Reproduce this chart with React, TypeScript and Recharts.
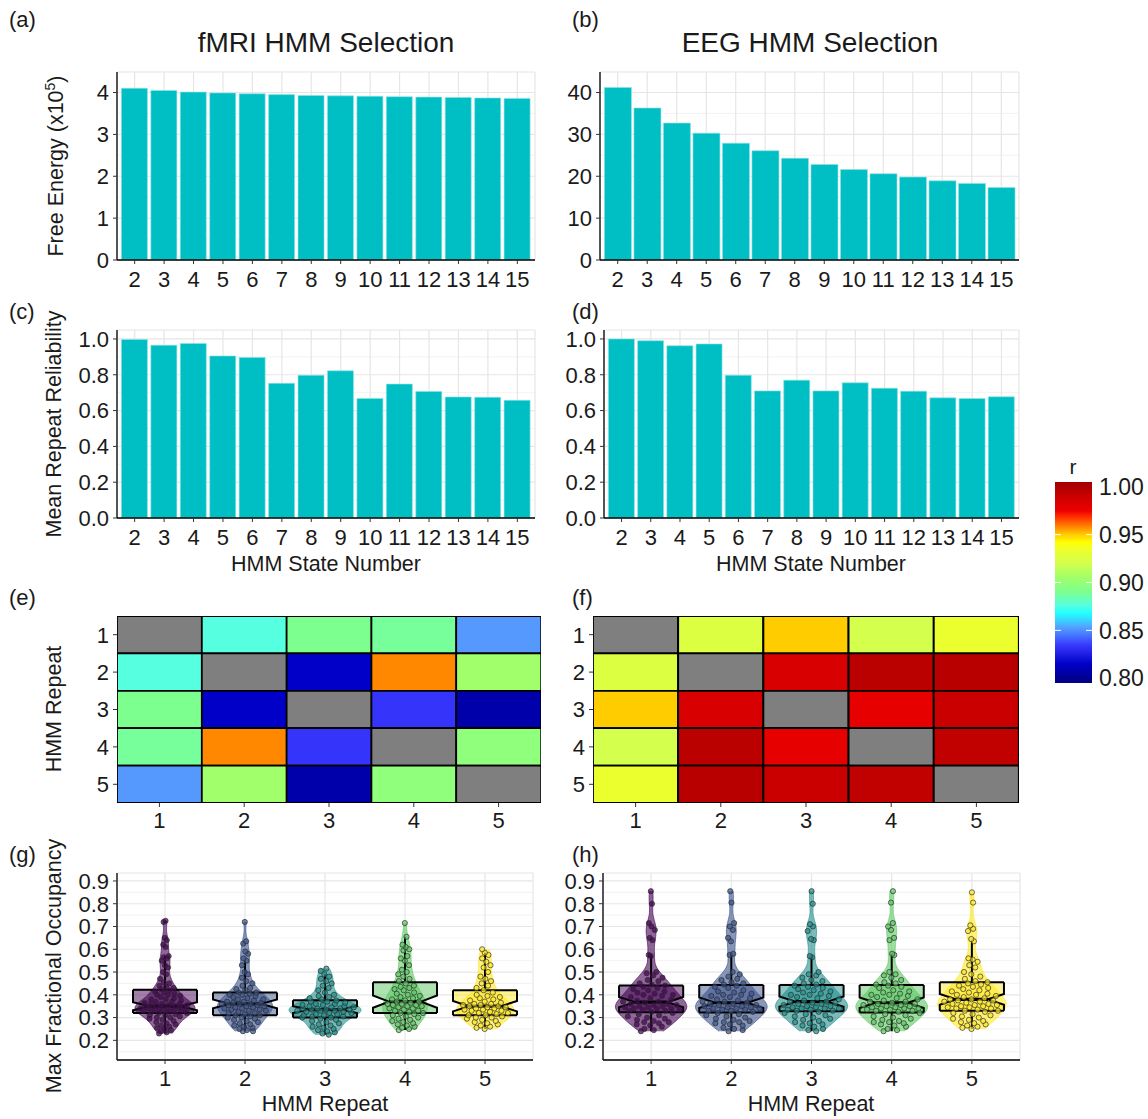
import React from 'react';
import {
  BarChart,
  Bar,
  ComposedChart,
  Area,
  Scatter,
  XAxis,
  YAxis,
  CartesianGrid,
  ReferenceLine,
  Cell,
} from 'recharts';

const FONT = '"Liberation Sans", Arial, Helvetica, sans-serif';
const INK = '#1a1a1a';
const TEAL = '#00BFC4';

// ---- (a)-(d) model selection ----
const stateNumbers = [2, 3, 4, 5, 6, 7, 8, 9, 10, 11, 12, 13, 14, 15];
const fmriFreeEnergy = [4.1, 4.05, 4.01, 3.99, 3.97, 3.95, 3.93, 3.92, 3.91, 3.9, 3.89, 3.88, 3.87, 3.86];
const eegFreeEnergy = [41.2, 36.3, 32.7, 30.3, 27.9, 26.1, 24.3, 22.8, 21.6, 20.6, 19.8, 18.9, 18.3, 17.3];
const fmriReliability = [0.997, 0.965, 0.975, 0.905, 0.897, 0.752, 0.797, 0.822, 0.668, 0.748, 0.707, 0.676, 0.674, 0.657];
const eegReliability = [1.0, 0.99, 0.962, 0.972, 0.797, 0.71, 0.77, 0.71, 0.755, 0.725, 0.708, 0.671, 0.667, 0.677];

const fmriEnergyTicks = [0, 1, 2, 3, 4];
const fmriEnergyMinor = [0.5, 1.5, 2.5, 3.5];
const eegEnergyTicks = [0, 10, 20, 30, 40];
const eegEnergyMinor = [5, 15, 25, 35];
const reliabilityTicks = [0, 0.2, 0.4, 0.6, 0.8, 1.0];
const reliabilityMinor = [0.1, 0.3, 0.5, 0.7, 0.9];

// ---- (e)-(f) repeat-to-repeat correlation ----
const repeats = [1, 2, 3, 4, 5];
const fmriRepeatR: (number | null)[][] = [
  [null, 0.876, 0.89, 0.888, 0.852],
  [0.876, null, 0.815, 0.958, 0.905],
  [0.89, 0.815, null, 0.833, 0.807],
  [0.888, 0.958, 0.833, null, 0.898],
  [0.852, 0.905, 0.807, 0.898, null],
];
const eegRepeatR: (number | null)[][] = [
  [null, 0.925, 0.95, 0.92, 0.933],
  [0.925, null, 0.985, 0.995, 0.996],
  [0.95, 0.985, null, 0.978, 0.99],
  [0.92, 0.995, 0.978, null, 0.993],
  [0.933, 0.996, 0.99, 0.993, null],
];
const rTicks = [0.8, 0.85, 0.9, 0.95, 1.0];
const rInnerTicks = [0.85, 0.9, 0.95];

// ---- (g)-(h) max fractional occupancy per repeat ----
const occTicks = [0.2, 0.3, 0.4, 0.5, 0.6, 0.7, 0.8, 0.9];
const occMinor = [0.15, 0.25, 0.35, 0.45, 0.55, 0.65, 0.75, 0.85];

const fmriOcc1 = [0.725, 0.72, 0.65, 0.64, 0.62, 0.61, 0.57, 0.565, 0.56, 0.55, 0.53, 0.52, 0.5, 0.49, 0.47, 0.455, 0.45, 0.44, 0.435, 0.43, 0.425, 0.42, 0.415, 0.41, 0.405, 0.4, 0.4, 0.395, 0.39, 0.385, 0.38, 0.38, 0.375, 0.37, 0.37, 0.365, 0.36, 0.36, 0.36, 0.355, 0.355, 0.35, 0.35, 0.35, 0.35, 0.345, 0.345, 0.345, 0.34, 0.34, 0.34, 0.34, 0.335, 0.335, 0.335, 0.33, 0.33, 0.33, 0.33, 0.325, 0.325, 0.32, 0.32, 0.315, 0.31, 0.31, 0.305, 0.3, 0.3, 0.295, 0.29, 0.285, 0.28, 0.275, 0.27, 0.265, 0.26, 0.255, 0.25, 0.245, 0.24, 0.235, 0.23];
const fmriOcc2 = [0.72, 0.635, 0.625, 0.59, 0.58, 0.56, 0.55, 0.53, 0.5, 0.49, 0.475, 0.46, 0.45, 0.44, 0.43, 0.425, 0.42, 0.41, 0.41, 0.405, 0.4, 0.4, 0.395, 0.39, 0.385, 0.38, 0.38, 0.375, 0.37, 0.37, 0.365, 0.365, 0.36, 0.36, 0.36, 0.355, 0.355, 0.35, 0.35, 0.345, 0.345, 0.34, 0.34, 0.335, 0.335, 0.33, 0.33, 0.325, 0.32, 0.32, 0.315, 0.31, 0.31, 0.305, 0.3, 0.3, 0.295, 0.29, 0.285, 0.28, 0.275, 0.27, 0.265, 0.26, 0.255, 0.25, 0.245, 0.24, 0.24];
const fmriOcc3 = [0.515, 0.505, 0.49, 0.48, 0.47, 0.46, 0.45, 0.44, 0.43, 0.42, 0.41, 0.4, 0.395, 0.39, 0.385, 0.38, 0.375, 0.37, 0.37, 0.365, 0.36, 0.36, 0.355, 0.355, 0.35, 0.35, 0.345, 0.345, 0.34, 0.34, 0.34, 0.335, 0.335, 0.335, 0.33, 0.33, 0.33, 0.325, 0.325, 0.32, 0.32, 0.315, 0.315, 0.31, 0.31, 0.305, 0.305, 0.3, 0.3, 0.295, 0.29, 0.285, 0.28, 0.275, 0.27, 0.265, 0.26, 0.255, 0.25, 0.245, 0.24, 0.235, 0.23, 0.225];
const fmriOcc4 = [0.715, 0.655, 0.62, 0.61, 0.6, 0.595, 0.57, 0.56, 0.55, 0.53, 0.51, 0.5, 0.49, 0.48, 0.47, 0.46, 0.45, 0.44, 0.435, 0.43, 0.425, 0.42, 0.41, 0.405, 0.4, 0.395, 0.39, 0.385, 0.38, 0.375, 0.37, 0.37, 0.365, 0.36, 0.36, 0.355, 0.355, 0.35, 0.35, 0.345, 0.34, 0.34, 0.335, 0.33, 0.33, 0.325, 0.32, 0.32, 0.315, 0.31, 0.305, 0.3, 0.295, 0.29, 0.285, 0.28, 0.275, 0.27, 0.265, 0.26, 0.255, 0.25, 0.245];
const fmriOcc5 = [0.6, 0.585, 0.575, 0.56, 0.545, 0.53, 0.52, 0.5, 0.48, 0.47, 0.46, 0.45, 0.44, 0.43, 0.42, 0.41, 0.4, 0.395, 0.39, 0.385, 0.38, 0.375, 0.37, 0.365, 0.36, 0.36, 0.355, 0.355, 0.35, 0.35, 0.345, 0.345, 0.34, 0.34, 0.335, 0.335, 0.33, 0.33, 0.325, 0.32, 0.32, 0.315, 0.31, 0.31, 0.305, 0.3, 0.3, 0.295, 0.29, 0.285, 0.28, 0.275, 0.27, 0.265, 0.26, 0.255, 0.25];

const eegOcc1 = [0.855, 0.8, 0.715, 0.7, 0.685, 0.65, 0.64, 0.575, 0.57, 0.5, 0.495, 0.485, 0.475, 0.465, 0.46, 0.45, 0.445, 0.44, 0.435, 0.43, 0.425, 0.42, 0.415, 0.41, 0.405, 0.4, 0.4, 0.395, 0.39, 0.385, 0.38, 0.375, 0.37, 0.37, 0.365, 0.36, 0.36, 0.355, 0.355, 0.35, 0.35, 0.345, 0.345, 0.34, 0.34, 0.34, 0.335, 0.335, 0.33, 0.33, 0.325, 0.32, 0.315, 0.31, 0.305, 0.3, 0.295, 0.29, 0.285, 0.28, 0.28, 0.275, 0.27, 0.265, 0.26, 0.25, 0.245, 0.24];
const eegOcc2 = [0.855, 0.805, 0.715, 0.7, 0.685, 0.65, 0.635, 0.58, 0.575, 0.5, 0.49, 0.48, 0.47, 0.465, 0.455, 0.45, 0.445, 0.44, 0.435, 0.43, 0.42, 0.415, 0.41, 0.405, 0.4, 0.4, 0.395, 0.39, 0.385, 0.38, 0.375, 0.37, 0.37, 0.365, 0.36, 0.36, 0.355, 0.355, 0.35, 0.35, 0.345, 0.345, 0.34, 0.34, 0.34, 0.335, 0.335, 0.33, 0.33, 0.325, 0.32, 0.315, 0.31, 0.305, 0.3, 0.295, 0.29, 0.285, 0.28, 0.28, 0.275, 0.27, 0.265, 0.255, 0.25, 0.245, 0.24];
const eegOcc3 = [0.855, 0.8, 0.71, 0.7, 0.68, 0.645, 0.64, 0.57, 0.565, 0.5, 0.49, 0.485, 0.475, 0.465, 0.46, 0.45, 0.445, 0.44, 0.435, 0.43, 0.425, 0.42, 0.415, 0.41, 0.405, 0.4, 0.4, 0.395, 0.39, 0.385, 0.38, 0.375, 0.37, 0.37, 0.365, 0.365, 0.36, 0.36, 0.355, 0.35, 0.35, 0.345, 0.345, 0.34, 0.34, 0.34, 0.335, 0.335, 0.33, 0.33, 0.325, 0.32, 0.315, 0.31, 0.305, 0.3, 0.295, 0.29, 0.285, 0.28, 0.275, 0.27, 0.265, 0.26, 0.25, 0.245, 0.24];
const eegOcc4 = [0.855, 0.805, 0.715, 0.7, 0.685, 0.65, 0.64, 0.58, 0.575, 0.5, 0.49, 0.485, 0.475, 0.465, 0.455, 0.45, 0.445, 0.44, 0.435, 0.43, 0.42, 0.415, 0.41, 0.405, 0.4, 0.4, 0.395, 0.39, 0.385, 0.38, 0.375, 0.37, 0.37, 0.365, 0.36, 0.36, 0.355, 0.355, 0.35, 0.35, 0.345, 0.345, 0.34, 0.34, 0.34, 0.335, 0.335, 0.33, 0.33, 0.325, 0.32, 0.315, 0.31, 0.305, 0.3, 0.295, 0.29, 0.285, 0.28, 0.28, 0.275, 0.27, 0.265, 0.26, 0.25, 0.245, 0.24];
const eegOcc5 = [0.85, 0.805, 0.705, 0.69, 0.68, 0.645, 0.635, 0.56, 0.555, 0.545, 0.53, 0.52, 0.5, 0.49, 0.48, 0.47, 0.46, 0.455, 0.45, 0.445, 0.44, 0.435, 0.43, 0.425, 0.42, 0.415, 0.41, 0.405, 0.4, 0.4, 0.395, 0.39, 0.385, 0.38, 0.38, 0.375, 0.375, 0.37, 0.37, 0.365, 0.36, 0.36, 0.355, 0.355, 0.35, 0.35, 0.345, 0.345, 0.34, 0.34, 0.335, 0.33, 0.33, 0.325, 0.32, 0.315, 0.31, 0.305, 0.3, 0.295, 0.29, 0.285, 0.28, 0.275, 0.27, 0.265, 0.26, 0.255, 0.25];

const viridis5 = ['#440154', '#3B528B', '#21908C', '#5DC863', '#FDE725'];

// jet-like colour ramp used for r
const rStops: [number, string][] = [
  [0.795, '#000088'],
  [0.8, '#00008F'],
  [0.815, '#0000C8'],
  [0.835, '#3A3AFF'],
  [0.845, '#4477FF'],
  [0.852, '#5599FF'],
  [0.862, '#33DDFF'],
  [0.868, '#22FFFF'],
  [0.876, '#55FFE0'],
  [0.89, '#7DFF90'],
  [0.905, '#A0FF6A'],
  [0.92, '#D4FF4C'],
  [0.935, '#EEFF2A'],
  [0.942, '#FFFF00'],
  [0.95, '#FFCC00'],
  [0.958, '#FF8800'],
  [0.968, '#FF3300'],
  [0.975, '#EE0000'],
  [0.985, '#D80000'],
  [0.995, '#BB0000'],
  [1.005, '#A00000'],
];

function hexToRgb(h: string) {
  return [1, 3, 5].map((i) => parseInt(h.slice(i, i + 2), 16));
}

function rColor(v: number | null) {
  if (v == null) return '#7F7F7F';
  if (v <= rStops[0][0]) return rStops[0][1];
  for (let i = 1; i < rStops.length; i++) {
    const [v1, c1] = rStops[i];
    if (v <= v1) {
      const [v0, c0] = rStops[i - 1];
      const t = (v - v0) / (v1 - v0);
      const a = hexToRgb(c0);
      const b = hexToRgb(c1);
      const m = a.map((x, k) => Math.round(x + (b[k] - x) * t));
      return `rgb(${m[0]},${m[1]},${m[2]})`;
    }
  }
  return rStops[rStops.length - 1][1];
}

// ---- layout helpers ----
type Plot = { left: number; top: number; right: number; bottom: number };
type Frame = { L: number; T: number; W: number; H: number; plot: Plot };

const TICK_FS = 22;
const tickStyle = { fontSize: TICK_FS, fill: INK, fontFamily: FONT };
const axisLineStyle = { stroke: '#000', strokeWidth: 1.3 };
const tickLineStyle = { stroke: '#333', strokeWidth: 1 };

function margins(f: Frame) {
  return { top: f.plot.top - f.T, right: f.L + f.W - f.plot.right, left: 0, bottom: 0 };
}

function Text({ cx, cy, size = 21.5, rotate = false, children }: any) {
  return (
    <div
      style={{
        position: 'absolute',
        left: cx,
        top: cy,
        transform: `translate(-50%, -50%)${rotate ? ' rotate(-90deg)' : ''}`,
        whiteSpace: 'nowrap',
        fontSize: size,
        lineHeight: 1,
        color: INK,
      }}
    >
      {children}
    </div>
  );
}

function Tag({ x, y, children }: any) {
  return (
    <div style={{ position: 'absolute', left: x, top: y, fontSize: 22, lineHeight: 1, color: INK }}>
      {children}
    </div>
  );
}

// ---- bar panels ----
function BarPanel({ frame, values, domain, ticks, minor, fmt }: any) {
  const data = stateNumbers.map((s, i) => ({ state: s, value: values[i] }));
  const { L, T, W, H, plot } = frame as Frame;
  return (
    <div style={{ position: 'absolute', left: L, top: T }}>
      <BarChart width={W} height={H} data={data} margin={margins(frame)} barCategoryGap="5%">
        <CartesianGrid stroke="#F0F0F0" strokeWidth={0.8} vertical={false} horizontalValues={minor} />
        <CartesianGrid stroke="#E6E6E6" strokeWidth={1.2} />
        <XAxis
          type="number"
          dataKey="state"
          domain={[1.4, 15.6]}
          ticks={stateNumbers}
          interval={0}
          allowDataOverflow
          height={T + H - plot.bottom}
          tick={tickStyle}
          tickSize={4}
          tickMargin={7}
          axisLine={axisLineStyle}
          tickLine={tickLineStyle}
        />
        <YAxis
          type="number"
          domain={domain}
          ticks={ticks}
          interval={0}
          allowDataOverflow
          width={plot.left - L}
          tick={tickStyle}
          tickSize={4}
          tickMargin={4}
          tickFormatter={fmt}
          axisLine={axisLineStyle}
          tickLine={tickLineStyle}
        />
        <Bar dataKey="value" fill={TEAL} stroke="#8FE0E2" strokeWidth={0.6} isAnimationActive={false} />
      </BarChart>
    </div>
  );
}

// ---- heatmap panels ----
function HeatPanel({ frame, matrix }: { frame: Frame; matrix: (number | null)[][] }) {
  const { L, T, W, H, plot } = frame;
  const data = repeats.map((rep) => {
    const row: any = { rep };
    repeats.forEach((r) => (row[`row${r}`] = 1));
    return row;
  });
  return (
    <div style={{ position: 'absolute', left: L, top: T }}>
      <BarChart width={W} height={H} data={data} margin={margins(frame)} barCategoryGap={0} barGap={0}>
        <XAxis
          type="number"
          dataKey="rep"
          domain={[0.5, 5.5]}
          ticks={repeats}
          interval={0}
          allowDataOverflow
          height={T + H - plot.bottom}
          tick={tickStyle}
          tickSize={4}
          tickMargin={5}
          axisLine={false}
          tickLine={tickLineStyle}
        />
        <YAxis
          type="number"
          domain={[0, 5]}
          reversed
          ticks={[0.5, 1.5, 2.5, 3.5, 4.5]}
          interval={0}
          allowDataOverflow
          width={plot.left - L}
          tick={tickStyle}
          tickSize={4}
          tickMargin={4}
          tickFormatter={(v: number) => String(v + 0.5)}
          axisLine={false}
          tickLine={tickLineStyle}
        />
        {repeats.map((r, i) => (
          <Bar key={r} dataKey={`row${r}`} stackId="tiles" isAnimationActive={false} stroke="#000" strokeWidth={1.8}>
            {repeats.map((c, j) => (
              <Cell key={c} fill={rColor(matrix[i][j])} />
            ))}
          </Bar>
        ))}
      </BarChart>
    </div>
  );
}

// ---- colour bar ----
function ColourBar({ frame }: { frame: Frame }) {
  const { L, T, W, H, plot } = frame;
  const lo = 0.795;
  const hi = 1.005;
  const stops = [...rStops].reverse();
  return (
    <div style={{ position: 'absolute', left: L, top: T }}>
      <BarChart
        width={W}
        height={H}
        data={[{ k: 'r', v: [lo, hi] }]}
        margin={{ top: plot.top - T, right: 0, left: plot.left - L, bottom: T + H - plot.bottom }}
        barCategoryGap={0}
      >
        <defs>
          <linearGradient id="rbar" x1="0" y1="0" x2="0" y2="1">
            {stops.map(([v, c]) => (
              <stop key={v} offset={`${((hi - v) / (hi - lo)) * 100}%`} stopColor={c} />
            ))}
          </linearGradient>
        </defs>
        <XAxis type="category" dataKey="k" hide padding={{ left: 0, right: 0 }} />
        <YAxis
          type="number"
          orientation="right"
          domain={[lo, hi]}
          ticks={rTicks}
          interval={0}
          allowDataOverflow
          width={L + W - plot.right}
          tick={{ ...tickStyle, fontSize: 23 }}
          tickSize={0}
          tickMargin={7}
          tickFormatter={(v: number) => v.toFixed(2)}
          axisLine={false}
          tickLine={false}
        />
        <Bar dataKey="v" fill="url(#rbar)" isAnimationActive={false} />
        {rInnerTicks.map((v) => (
          <ReferenceLine key={v} y={v} stroke="#fff" strokeWidth={1} strokeDasharray="6 25 6" />
        ))}
      </BarChart>
    </div>
  );
}

// ---- violin panels ----
function quantile(s: number[], p: number) {
  const h = (s.length - 1) * p;
  const lo = Math.floor(h);
  const hi = Math.min(lo + 1, s.length - 1);
  return s[lo] + (h - lo) * (s[hi] - s[lo]);
}

function summarise(values: number[]) {
  const s = [...values].sort((a, b) => a - b);
  const n = s.length;
  const q1 = quantile(s, 0.25);
  const med = quantile(s, 0.5);
  const q3 = quantile(s, 0.75);
  const iqr = q3 - q1;
  const lowW = s.find((v) => v >= q1 - 1.5 * iqr) as number;
  const highW = [...s].reverse().find((v) => v <= q3 + 1.5 * iqr) as number;
  const mean = s.reduce((a, b) => a + b, 0) / n;
  const sd = Math.sqrt(s.reduce((a, b) => a + (b - mean) ** 2, 0) / (n - 1));
  const bw = 0.9 * Math.min(sd, iqr / 1.34) * Math.pow(n, -0.2);
  const dens = (y: number) => {
    let d = 0;
    for (const v of s) {
      const z = (y - v) / bw;
      d += Math.exp(-0.5 * z * z);
    }
    return d / (n * bw * Math.sqrt(2 * Math.PI));
  };
  const steps = 120;
  const grid = Array.from({ length: steps + 1 }, (_, i) => {
    const y = s[0] + ((s[n - 1] - s[0]) * i) / steps;
    return { y, d: dens(y) };
  });
  return { s, n, q1, med, q3, iqr, lowW, highW, notch: (1.58 * iqr) / Math.sqrt(n), dens, grid };
}

function ViolinPanel({ frame, groups }: { frame: Frame; groups: number[][] }) {
  const { L, T, W, H, plot } = frame;
  const sums = groups.map(summarise);
  const maxD = Math.max(...sums.flatMap((g) => g.grid.map((p) => p.d)));
  const half = 0.45;
  const boxHalf = 0.4;

  return (
    <div style={{ position: 'absolute', left: L, top: T }}>
      <ComposedChart layout="vertical" width={W} height={H} margin={margins(frame)}>
        <CartesianGrid stroke="#F0F0F0" strokeWidth={0.8} vertical={false} horizontalValues={occMinor} />
        <CartesianGrid stroke="#E6E6E6" strokeWidth={1.2} />
        <XAxis
          type="number"
          dataKey="x"
          domain={[0.4, 5.6]}
          ticks={repeats}
          interval={0}
          allowDataOverflow
          height={T + H - plot.bottom}
          tick={tickStyle}
          tickSize={4}
          tickMargin={6}
          axisLine={axisLineStyle}
          tickLine={tickLineStyle}
        />
        <YAxis
          type="number"
          dataKey="y"
          domain={[0.1136, 0.935]}
          reversed
          ticks={occTicks}
          interval={0}
          allowDataOverflow
          width={plot.left - L}
          tick={tickStyle}
          tickSize={4}
          tickMargin={4}
          tickFormatter={(v: number) => v.toFixed(1)}
          axisLine={axisLineStyle}
          tickLine={tickLineStyle}
        />
        {sums.map((g, i) => {
          const c = repeats[i];
          const data = g.grid.map((p) => {
            const hw = (half * p.d) / maxD;
            return { y: p.y, v: [c - hw, c + hw] };
          });
          return (
            <Area
              key={`violin${i}`}
              data={data}
              dataKey="v"
              type="linear"
              fill={viridis5[i]}
              fillOpacity={0.6}
              stroke={viridis5[i]}
              strokeOpacity={0.8}
              strokeWidth={0.8}
              dot={false}
              activeDot={false}
              isAnimationActive={false}
            />
          );
        })}
        {sums.map((g, i) => {
          const c = repeats[i];
          const pts = g.s.map((y, k) => {
            const t = ((k * 0.6180339887 + i * 0.37) % 1) * 2 - 1;
            const hw = (half * g.dens(y)) / maxD;
            return { x: c + t * hw * 0.85, y };
          });
          const col = viridis5[i];
          return (
            <Scatter
              key={`pts${i}`}
              data={pts}
              fill={col}
              isAnimationActive={false}
              shape={(p: any) => (
                <circle
                  cx={p.cx}
                  cy={p.cy}
                  r={2.6}
                  fill={col}
                  fillOpacity={0.7}
                  stroke="#2a2a2a"
                  strokeOpacity={0.75}
                  strokeWidth={0.9}
                />
              )}
            />
          );
        })}
        {sums.map((g, i) => {
          const c = repeats[i];
          const box = [
            { y: g.q1, v: [c - boxHalf, c + boxHalf] },
            { y: g.med - g.notch, v: [c - boxHalf, c + boxHalf] },
            { y: g.med, v: [c - boxHalf / 2, c + boxHalf / 2] },
            { y: g.med + g.notch, v: [c - boxHalf, c + boxHalf] },
            { y: g.q3, v: [c - boxHalf, c + boxHalf] },
          ];
          return (
            <Area
              key={`box${i}`}
              data={box}
              dataKey="v"
              type="linear"
              fill={viridis5[i]}
              fillOpacity={0.5}
              stroke="#000"
              strokeWidth={2}
              dot={false}
              activeDot={false}
              isAnimationActive={false}
            />
          );
        })}
        {sums.flatMap((g, i) => {
          const c = repeats[i];
          return [
            <ReferenceLine key={`q1${i}`} segment={[{ x: c - boxHalf, y: g.q1 }, { x: c + boxHalf, y: g.q1 }]} stroke="#000" strokeWidth={2} />,
            <ReferenceLine key={`q3${i}`} segment={[{ x: c - boxHalf, y: g.q3 }, { x: c + boxHalf, y: g.q3 }]} stroke="#000" strokeWidth={2} />,
            <ReferenceLine key={`md${i}`} segment={[{ x: c - boxHalf / 2, y: g.med }, { x: c + boxHalf / 2, y: g.med }]} stroke="#000" strokeWidth={3.2} />,
            <ReferenceLine key={`wh${i}`} segment={[{ x: c, y: g.q3 }, { x: c, y: g.highW }]} stroke="#000" strokeWidth={2} />,
            <ReferenceLine key={`wl${i}`} segment={[{ x: c, y: g.lowW }, { x: c, y: g.q1 }]} stroke="#000" strokeWidth={2} />,
          ];
        })}
      </ComposedChart>
    </div>
  );
}

// ---- frames (page coordinates) ----
const frameA: Frame = { L: 0, T: 56, W: 545, H: 244, plot: { left: 117, top: 72, right: 535, bottom: 260 } };
const frameB: Frame = { L: 555, T: 56, W: 475, H: 244, plot: { left: 600, top: 72, right: 1019, bottom: 260 } };
const frameC: Frame = { L: 0, T: 316, W: 545, H: 240, plot: { left: 117, top: 330, right: 535, bottom: 518 } };
const frameD: Frame = { L: 555, T: 316, W: 475, H: 240, plot: { left: 604, top: 330, right: 1019, bottom: 518 } };
const frameE: Frame = { L: 0, T: 606, W: 560, H: 230, plot: { left: 117, top: 616, right: 541, bottom: 803 } };
const frameF: Frame = { L: 555, T: 606, W: 475, H: 230, plot: { left: 593, top: 616, right: 1019, bottom: 803 } };
const frameG: Frame = { L: 0, T: 863, W: 545, H: 230, plot: { left: 117, top: 873, right: 533, bottom: 1060 } };
const frameH: Frame = { L: 555, T: 863, W: 475, H: 230, plot: { left: 603, top: 873, right: 1020, bottom: 1060 } };
const frameBar: Frame = { L: 1040, T: 470, W: 108, H: 225, plot: { left: 1055, top: 482, right: 1092, bottom: 683 } };

export default function App() {
  const fmt1 = (v: number) => v.toFixed(1);
  const fmt0 = (v: number) => String(v);
  return (
    <div
      style={{
        position: 'absolute',
        left: 0,
        top: 0,
        width: 1148,
        height: 1119,
        background: '#fff',
        fontFamily: FONT,
        overflow: 'hidden',
      }}
    >
      <BarPanel frame={frameA} values={fmriFreeEnergy} domain={[0, 4.49]} ticks={fmriEnergyTicks} minor={fmriEnergyMinor} fmt={fmt0} />
      <BarPanel frame={frameB} values={eegFreeEnergy} domain={[0, 44.9]} ticks={eegEnergyTicks} minor={eegEnergyMinor} fmt={fmt0} />
      <BarPanel frame={frameC} values={fmriReliability} domain={[0, 1.05]} ticks={reliabilityTicks} minor={reliabilityMinor} fmt={fmt1} />
      <BarPanel frame={frameD} values={eegReliability} domain={[0, 1.05]} ticks={reliabilityTicks} minor={reliabilityMinor} fmt={fmt1} />
      <HeatPanel frame={frameE} matrix={fmriRepeatR} />
      <HeatPanel frame={frameF} matrix={eegRepeatR} />
      <ColourBar frame={frameBar} />
      <ViolinPanel frame={frameG} groups={[fmriOcc1, fmriOcc2, fmriOcc3, fmriOcc4, fmriOcc5]} />
      <ViolinPanel frame={frameH} groups={[eegOcc1, eegOcc2, eegOcc3, eegOcc4, eegOcc5]} />

      <Tag x={9} y={9}>(a)</Tag>
      <Tag x={572} y={9}>(b)</Tag>
      <Tag x={9} y={301}>(c)</Tag>
      <Tag x={572} y={301}>(d)</Tag>
      <Tag x={9} y={587}>(e)</Tag>
      <Tag x={572} y={587}>(f)</Tag>
      <Tag x={9} y={844}>(g)</Tag>
      <Tag x={572} y={844}>(h)</Tag>

      <Text cx={326} cy={43} size={28}>fMRI HMM Selection</Text>
      <Text cx={810} cy={43} size={28}>EEG HMM Selection</Text>

      <Text cx={55} cy={166} rotate>
        Free Energy (x10<sup style={{ fontSize: 14 }}>5</sup>)
      </Text>
      <Text cx={55} cy={424} rotate>Mean Repeat Reliability</Text>
      <Text cx={55} cy={709} rotate>HMM Repeat</Text>
      <Text cx={55} cy={966} rotate>Max Fractional Occupancy</Text>

      <Text cx={326} cy={565}>HMM State Number</Text>
      <Text cx={811} cy={565}>HMM State Number</Text>
      <Text cx={325} cy={1105}>HMM Repeat</Text>
      <Text cx={811} cy={1105}>HMM Repeat</Text>

      <Text cx={1073} cy={466} size={21}>r</Text>
    </div>
  );
}
